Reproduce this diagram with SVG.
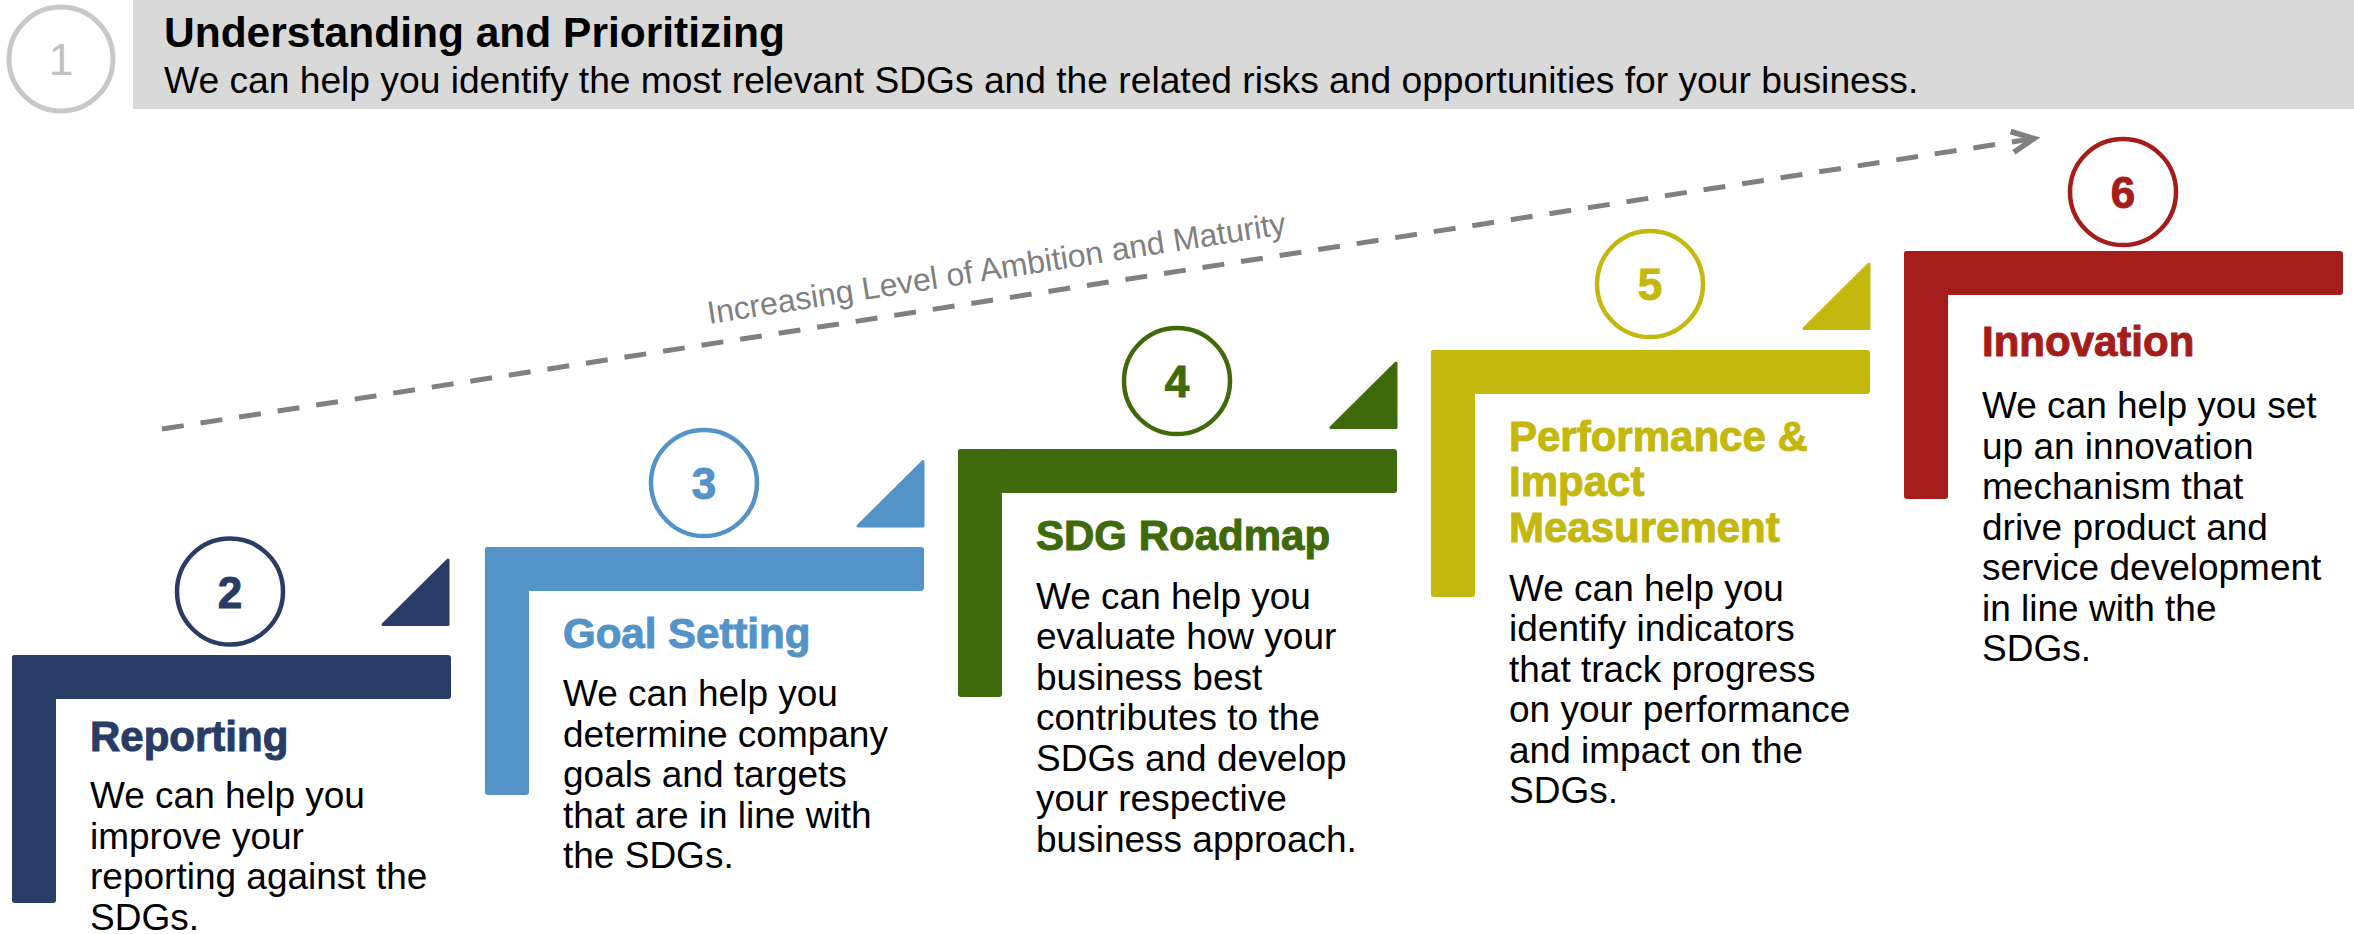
<svg xmlns="http://www.w3.org/2000/svg" width="2354" height="934" viewBox="0 0 2354 934">
  <style>
    text { font-family: "Liberation Sans", Arial, Helvetica, sans-serif; }
    .head { font-size: 42.5px; font-weight: bold; fill: #000; }
    .sub { font-size: 37.2px; fill: #000; }
    .ttl { font-size: 42px; font-weight: bold; }
    .body { font-size: 37px; fill: #000; }
    .num { font-size: 44px; font-weight: bold; text-anchor: middle; }
    .ring { fill: none; stroke-width: 4.5; }
    .tri { stroke-width: 3; stroke-linejoin: round; }
    .c2 { fill: #283C66; stroke: #283C66; }
    .c3 { fill: #5393C8; stroke: #5393C8; }
    .c4 { fill: #3F6A0C; stroke: #3F6A0C; }
    .c5 { fill: #C4B70D; stroke: #C4B70D; }
    .c6 { fill: #A51D1A; stroke: #A51D1A; }
    .bar { stroke: none; }
    .label { font-size: 32px; fill: #808080; }
  </style>
  <defs>
    <marker id="chevron" viewBox="-30 -20 36 40" refX="0" refY="0" markerWidth="36" markerHeight="40" markerUnits="userSpaceOnUse" orient="auto">
      <path d="M-22,-10.5 L0,0 L-22,10.5" fill="none" stroke="#808080" stroke-width="5.5"/>
    </marker>
  </defs>

  <!-- step 1: header banner -->
  <g id="step1">
    <rect x="133" y="0" width="2221" height="109" fill="#D9D9D9"/>
    <circle cx="61" cy="59" r="52" fill="none" stroke="#C8C8C8" stroke-width="5"/>
    <text x="61" y="75" font-size="44" fill="#C0C0C0" text-anchor="middle">1</text>
    <text class="head" x="164" y="47">Understanding and Prioritizing</text>
    <text class="sub" x="164" y="93">We can help you identify the most relevant SDGs and the related risks and opportunities for your business.</text>
  </g>

  <!-- ambition arrow -->
  <g id="connectors">
    <path d="M162,429 L2034,138.5" fill="none" stroke="#808080" stroke-width="5" stroke-dasharray="22 17" marker-end="url(#chevron)"/>
    <text class="label" text-anchor="middle" transform="translate(998,279) rotate(-8.85)">Increasing Level of Ambition and Maturity</text>
  </g>

  <!-- step 2 -->
  <g id="step2">
    <rect class="bar c2" x="12" y="655" width="439" height="44" rx="3"/>
    <rect class="bar c2" x="12" y="655" width="44" height="248" rx="3"/>
    <polygon class="tri c2" points="383,624.5 448,560 448,624.5"/>
    <circle class="ring c2" cx="230" cy="591.5" r="53" style="fill:none"/>
    <text class="num c2" x="230" y="607.5" stroke="none">2</text>
    <text class="ttl c2" x="90" y="750.5" stroke="none">Reporting</text>
    <text class="body">
      <tspan x="90" y="808">We can help you</tspan>
      <tspan x="90" y="848.5">improve your</tspan>
      <tspan x="90" y="889">reporting against the</tspan>
      <tspan x="90" y="929.5">SDGs.</tspan>
    </text>
  </g>

  <!-- step 3 -->
  <g id="step3">
    <rect class="bar c3" x="485" y="547" width="439" height="44" rx="3"/>
    <rect class="bar c3" x="485" y="547" width="44" height="248" rx="3"/>
    <polygon class="tri c3" points="858,526 923,461.5 923,526"/>
    <circle class="ring c3" cx="704" cy="483" r="53" style="fill:none"/>
    <text class="num c3" x="704" y="499" stroke="none">3</text>
    <text class="ttl c3" x="563" y="647.5" stroke="none">Goal Setting</text>
    <text class="body">
      <tspan x="563" y="706">We can help you</tspan>
      <tspan x="563" y="746.5">determine company</tspan>
      <tspan x="563" y="787">goals and targets</tspan>
      <tspan x="563" y="827.5">that are in line with</tspan>
      <tspan x="563" y="868">the SDGs.</tspan>
    </text>
  </g>

  <!-- step 4 -->
  <g id="step4">
    <rect class="bar c4" x="958" y="449" width="439" height="44" rx="3"/>
    <rect class="bar c4" x="958" y="449" width="44" height="248" rx="3"/>
    <polygon class="tri c4" points="1331,427.5 1396,363 1396,427.5"/>
    <circle class="ring c4" cx="1177" cy="381" r="53" style="fill:none"/>
    <text class="num c4" x="1177" y="397" stroke="none">4</text>
    <text class="ttl c4" x="1036" y="549.5" stroke="none">SDG Roadmap</text>
    <text class="body">
      <tspan x="1036" y="608.5">We can help you</tspan>
      <tspan x="1036" y="649">evaluate how your</tspan>
      <tspan x="1036" y="689.5">business best</tspan>
      <tspan x="1036" y="730">contributes to the</tspan>
      <tspan x="1036" y="770.5">SDGs and develop</tspan>
      <tspan x="1036" y="811">your respective</tspan>
      <tspan x="1036" y="851.5">business approach.</tspan>
    </text>
  </g>

  <!-- step 5 -->
  <g id="step5">
    <rect class="bar c5" x="1431" y="350" width="439" height="44" rx="3"/>
    <rect class="bar c5" x="1431" y="350" width="44" height="247" rx="3"/>
    <polygon class="tri c5" points="1804,328.5 1869,264 1869,328.5"/>
    <circle class="ring c5" cx="1650" cy="284" r="53" style="fill:none"/>
    <text class="num c5" x="1650" y="300" stroke="none">5</text>
    <text class="ttl c5" stroke="none">
      <tspan x="1509" y="450.5">Performance &amp;</tspan>
      <tspan x="1509" y="496">Impact</tspan>
      <tspan x="1509" y="542">Measurement</tspan>
    </text>
    <text class="body">
      <tspan x="1509" y="600.5">We can help you</tspan>
      <tspan x="1509" y="641">identify indicators</tspan>
      <tspan x="1509" y="681.5">that track progress</tspan>
      <tspan x="1509" y="722">on your performance</tspan>
      <tspan x="1509" y="762.5">and impact on the</tspan>
      <tspan x="1509" y="803">SDGs.</tspan>
    </text>
  </g>

  <!-- step 6 -->
  <g id="step6">
    <rect class="bar c6" x="1904" y="251" width="439" height="44" rx="3"/>
    <rect class="bar c6" x="1904" y="251" width="44" height="248" rx="3"/>
    <circle class="ring c6" cx="2123" cy="192" r="53" style="fill:none"/>
    <text class="num c6" x="2123" y="208" stroke="none">6</text>
    <text class="ttl c6" x="1982" y="355.5" stroke="none">Innovation</text>
    <text class="body">
      <tspan x="1982" y="418">We can help you set</tspan>
      <tspan x="1982" y="458.5">up an innovation</tspan>
      <tspan x="1982" y="499">mechanism that</tspan>
      <tspan x="1982" y="539.5">drive product and</tspan>
      <tspan x="1982" y="580">service development</tspan>
      <tspan x="1982" y="620.5">in line with the</tspan>
      <tspan x="1982" y="661">SDGs.</tspan>
    </text>
  </g>
</svg>
